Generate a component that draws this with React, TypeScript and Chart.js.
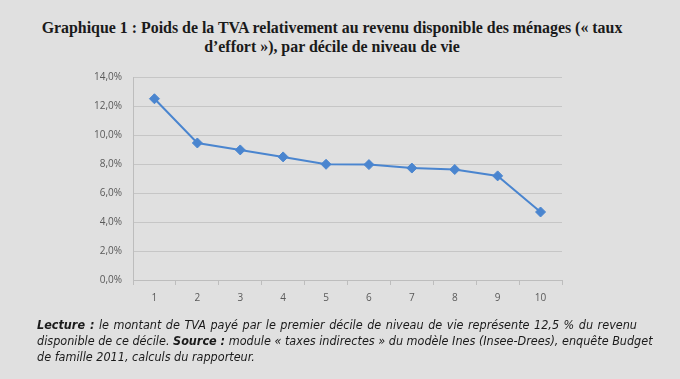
import React, { useEffect, useRef } from "react";
import { Chart, registerables } from "chart.js";

Chart.register(...registerables);

const categories = ["1", "2", "3", "4", "5", "6", "7", "8", "9", "10"];
const tauxEffort = [12.5, 9.45, 8.97, 8.49, 7.98, 7.96, 7.72, 7.62, 7.18, 4.69];
const yTicks = [0, 2, 4, 6, 8, 10, 12, 14];

const titleLines = [
  "Graphique 1 : Poids de la TVA relativement au revenu disponible des ménages (« taux",
  "d’effort »), par décile de niveau de vie",
];

export default function App() {
  const ref = useRef<HTMLCanvasElement | null>(null);

  useEffect(() => {
    if (!ref.current) return;
    const chart = new Chart(ref.current, {
      type: "line",
      data: {
        labels: categories,
        datasets: [
          {
            data: tauxEffort,
            borderColor: "#4a85cf",
            backgroundColor: "#4a85cf",
            borderWidth: 2,
            pointStyle: "rectRot",
            pointRadius: 5,
            pointBorderWidth: 1,
            tension: 0,
          },
        ],
      },
      options: {
        animation: false,
        responsive: false,
        maintainAspectRatio: false,
        layout: { padding: { left: 0, right: 118, top: 16, bottom: 0 } },
        plugins: { legend: { display: false }, tooltip: { enabled: false } },
        scales: {
          x: {
            type: "category",
            offset: true,
            grid: {
              display: true,
              offset: true,
              drawOnChartArea: false,
              drawTicks: true,
              tickLength: 5,
              color: "#bdbdbd",
            },
            border: { display: true, color: "#bdbdbd" },
            ticks: {
              color: "#595959",
              font: { family: "Open Sans", size: 10 },
              padding: 7,
              maxRotation: 0,
            },
            afterFit: (s: any) => {
              s.height = 40;
            },
          },
          y: {
            min: yTicks[0],
            max: yTicks[yTicks.length - 1],
            afterBuildTicks: (s: any) => {
              s.ticks = yTicks.map((v) => ({ value: v }));
            },
            grid: { color: "#c6c6c6", drawTicks: false },
            border: { display: true, color: "#bdbdbd" },
            ticks: {
              color: "#595959",
              font: { family: "Open Sans", size: 10 },
              padding: 11,
              callback: (v: any) => Number(v).toFixed(1).replace(".", ",") + "%",
            },
            afterFit: (s: any) => {
              s.width = 133;
            },
          },
        },
      },
    });
    return () => chart.destroy();
  }, []);

  const footStyle: React.CSSProperties = {
    position: "absolute",
    left: 37,
    width: 600,
    fontFamily: "'Liberation Sans Narrow', 'DejaVu Sans Condensed', sans-serif",
    fontStyle: "italic",
    fontSize: 12.5,
    color: "#1a1a1a",
    whiteSpace: "nowrap",
    lineHeight: "16px",
  };

  return (
    <div
      style={{
        position: "fixed",
        left: 0,
        top: 0,
        width: 680,
        height: 379,
        background: "#e0e0e0",
        overflow: "hidden",
      }}
    >
      <div
        style={{
          position: "absolute",
          left: 0,
          top: 18,
          width: 664,
          textAlign: "center",
          fontFamily: "'Liberation Serif', serif",
          fontWeight: "bold",
          fontSize: 15.9,
          lineHeight: "19px",
          color: "#1a1a1a",
        }}
      >
        {titleLines.map((t, i) => (
          <div key={i}>{t}</div>
        ))}
      </div>
      <canvas
        ref={ref}
        width={680}
        height={260}
        style={{ position: "absolute", left: 0, top: 60, width: 680, height: 260 }}
      />
      <div style={{ ...footStyle, top: 317, textAlign: "justify", textAlignLast: "justify" } as any}>
        <b>Lecture :</b> le montant de TVA payé par le premier décile de niveau de vie représente 12,5 % du revenu
      </div>
      <div style={{ ...footStyle, top: 333, textAlign: "justify", textAlignLast: "justify" } as any}>
        disponible de ce décile. <b>Source :</b> module « taxes indirectes » du modèle Ines (Insee-Drees), enquête Budget
      </div>
      <div style={{ ...footStyle, top: 349 }}>de famille 2011, calculs du rapporteur.</div>
    </div>
  );
}
